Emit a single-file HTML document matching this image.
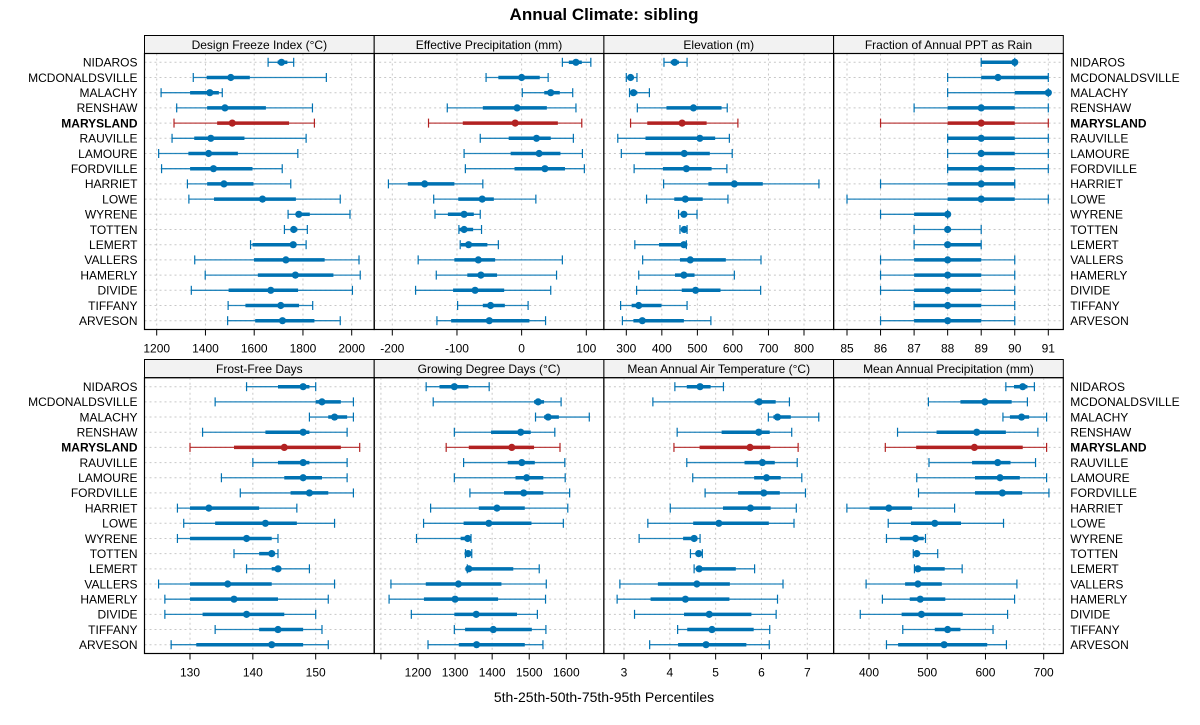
<!DOCTYPE html>
<html><head><meta charset="utf-8"><style>
html,body{margin:0;padding:0;background:#fff;}
svg{display:block;font-family:"Liberation Sans",Arial,sans-serif;}
</style></head><body>
<svg id="chart" width="1200" height="725" viewBox="0 0 1200 725" xmlns="http://www.w3.org/2000/svg">
<text x="604" y="20" text-anchor="middle" font-size="17" font-weight="bold" fill="#000">Annual Climate: sibling</text>
<text x="604" y="702" text-anchor="middle" font-size="14" fill="#000">5th-25th-50th-75th-95th Percentiles</text>
</svg>
<script>
const sites = ["NIDAROS","MCDONALDSVILLE","MALACHY","RENSHAW","MARYSLAND","RAUVILLE","LAMOURE","FORDVILLE","HARRIET","LOWE","WYRENE","TOTTEN","LEMERT","VALLERS","HAMERLY","DIVIDE","TIFFANY","ARVESON"];
const highlight = "MARYSLAND";
const panelTitles = ["Design Freeze Index (°C)","Effective Precipitation (mm)","Elevation (m)","Fraction of Annual PPT as Rain","Frost-Free Days","Growing Degree Days (°C)","Mean Annual Air Temperature (°C)","Mean Annual Precipitation (mm)"];
const freezeIndex = [[1657,1696,1712,1736,1762],[1350,1405,1504,1582,1896],[1218,1337,1418,1455,1469],[1282,1407,1480,1648,1839],[1271,1448,1510,1743,1847],[1263,1354,1422,1560,1813],[1208,1330,1413,1533,1779],[1220,1337,1433,1593,1715],[1326,1407,1476,1597,1750],[1332,1435,1634,1771,1953],[1739,1773,1783,1828,1993],[1724,1749,1762,1777,1818],[1585,1593,1760,1766,1813],[1356,1599,1730,1889,2030],[1399,1615,1769,1925,2035],[1342,1495,1668,1780,2003],[1493,1564,1709,1784,1840],[1491,1604,1716,1847,1953]];
const effPrecip = [[63,73,84,93,107],[-55,-36,0,28,41],[1,35,45,59,79],[-115,-60,-7,39,84],[-144,-91,-10,56,93],[-64,-20,23,45,80],[-89,-17,27,60,94],[-87,-11,36,67,97],[-206,-176,-150,-104,-60],[-136,-98,-61,-43,22],[-134,-114,-89,-74,-64],[-97,-96,-89,-75,-62],[-95,-94,-82,-53,-36],[-160,-104,-67,-41,63],[-132,-84,-63,-38,54],[-164,-106,-72,-27,45],[-99,-60,-48,-26,10],[-131,-109,-50,12,37]];
const elevation = [[406,425,436,448,471],[300,307,312,320,330],[309,312,320,331,365],[331,413,489,568,584],[312,359,457,526,614],[276,354,507,550,590],[286,353,463,535,598],[322,403,469,540,583],[405,531,604,684,842],[357,435,466,515,586],[447,454,462,468,499],[451,455,463,468,471],[324,392,462,467,469],[346,451,480,580,679],[335,437,462,492,604],[329,456,495,565,678],[284,315,335,399,471],[289,320,345,462,538]];
const rainFraction = [[89,89,90,90,90],[88,89,89.5,91,91],[88,90,91,91,91],[87,88,89,90,91],[86,88,89,90,91],[88,88,89,90,91],[88,89,89,90,91],[88,88,89,90,91],[86,88,89,90,90],[85,88,89,90,91],[86,87,88,88,88],[87,88,88,88,89],[87,88,88,89,89],[86,87,88,89,90],[86,87,88,89,90],[86,87,88,89,90],[87,87,88,89,90],[86,87,88,89,90]];
const frostFree = [[139,144,148,149,150],[134,150,151,154,156],[149,152,153,155,156],[132,142,148,149,155],[130,137,145,154,157],[140,144,148,149,155],[135,145,148,151,155],[138,146,149,152,156],[128,130,133,141,147],[129,134,142,147,153],[128,130,139,143,144],[137,141,143,143.5,144],[139,143,144,144,149],[125,130,136,143,153],[126,130,137,144,152],[126,132,139,145,150],[134,141,144,148,151],[127,131,143,148,152]];
const gdd = [[1222,1258,1298,1336,1392],[1241,1513,1524,1540,1586],[1517,1540,1551,1580,1662],[1298,1397,1477,1504,1569],[1276,1337,1453,1513,1583],[1323,1442,1480,1515,1596],[1298,1463,1493,1538,1597],[1340,1432,1485,1538,1609],[1234,1364,1413,1488,1604],[1215,1323,1391,1506,1592],[1196,1315,1334,1340,1343],[1328,1331,1335,1340,1345],[1333,1335,1337,1457,1527],[1127,1221,1309,1425,1546],[1122,1216,1300,1416,1544],[1182,1298,1357,1467,1522],[1298,1327,1403,1507,1545],[1227,1310,1358,1488,1537]];
const maat = [[4.11,4.37,4.66,4.89,5.17],[3.63,5.85,5.95,6.31,6.61],[6.15,6.26,6.35,6.64,7.25],[4.16,5.13,5.94,6.18,6.66],[4.09,4.65,5.75,6.19,6.80],[4.37,5.63,6.02,6.29,6.78],[4.50,5.84,6.11,6.42,6.88],[4.77,5.49,6.05,6.40,6.96],[4.01,5.16,5.76,6.2,6.76],[3.52,4.51,5.07,6.16,6.71],[3.33,4.29,4.53,4.6,4.66],[4.45,4.57,4.63,4.67,4.71],[4.53,4.6,4.64,5.44,5.85],[2.91,3.74,4.59,5.31,6.47],[2.85,3.58,4.34,5.30,6.35],[3.23,4.31,4.86,5.78,6.32],[4.17,4.38,4.92,5.83,6.18],[3.56,4.18,4.79,5.67,6.17]];
const map = [[635,649,664,672,684],[502,557,599,645,672],[630,642,662,675,705],[449,516,585,635,690],[428,481,581,664,705],[503,577,621,643,686],[482,582,625,659,705],[485,582,629,663,709],[362,401,434,474,547],[433,472,513,558,631],[430,453,480,494,497],[476,478,482,486,518],[478,482,484,530,560],[395,462,484,525,654],[423,470,488,531,650],[385,456,490,561,638],[458,513,535,557,613],[430,450,529,603,636]];
const panelData = [freezeIndex,effPrecip,elevation,rainFraction,frostFree,gdd,maat,map];
const ticks1 = [1200,1400,1600,1800,2000];
const ticks2 = [-200,-100,0,100];
const ticks3 = [300,400,500,600,700,800];
const ticks4 = [85,86,87,88,89,90,91];
const ticks5 = [130,140,150];
const ticks6 = [1100,1200,1300,1400,1500,1600];
const ticks7 = [3,4,5,6,7];
const ticks8 = [400,500,600,700];
const panelTicks = [ticks1,ticks2,ticks3,ticks4,ticks5,ticks6,ticks7,ticks8];
const hiddenTickLabels = [[],[],[],[],[],[1100],[],[]];
// axis scale anchors (value pairs mapping to panel-local pixel calibration)
const scaleAnchors = [[1200,2000],[-200,100],[300,800],[85,91],[130,150],[1200,1600],[3,7],[400,700]];
const anchorPx = [[156.7,351.7],[392.3,586.3],[626.3,804],[847,1048.3],[190,315.7],[418,566.3],[624,807.3],[869,1043.7]];

const NS = "http://www.w3.org/2000/svg";
const svg = document.getElementById('chart');
function mk(tag, attrs, parent){ const e=document.createElementNS(NS,tag); for(const k in attrs) e.setAttribute(k,attrs[k]); (parent||svg).appendChild(e); return e; }
const panelLeft = [144.5,374.2,603.9,833.6];
const panelW = 229.7;
const rows = [{strip:35.5,top:53.5,bottom:329.5,first:62.3,last:320.7},{strip:359.5,top:377.7,bottom:653.5,first:386.7,last:644.7}];
const BLUE="#0072B2", RED="#B22222";

for(let p=0;p<8;p++){
  const r = rows[Math.floor(p/4)], col = p%4;
  const x0 = panelLeft[col], x1 = x0+panelW;
  const a = scaleAnchors[p], ap = anchorPx[p];
  const sx = v => ap[0] + (v-a[0])*(ap[1]-ap[0])/(a[1]-a[0]);
  const sy = i => r.first + i*(r.last-r.first)/(sites.length-1);
  const g = mk('g',{});
  
  
  // strip
  const st = mk('rect',{x:x0,y:r.strip,width:panelW,height:r.top-r.strip,fill:'#f2f2f2',stroke:'#000','stroke-width':1},g);
  
  
  const stt = mk('text',{x:x0+panelW/2,y:r.strip+13.5,'text-anchor':'middle','font-size':'12',fill:'#000'},g);
  stt.textContent = panelTitles[p];
  
  
  // grid
  panelTicks[p].forEach(t=>{
    const x=sx(t); if(x<x0||x>x1) return;
    const gl=mk('line',{x1:x,x2:x,y1:r.top,y2:r.bottom,stroke:'#c8c8c8','stroke-dasharray':'2,3','stroke-width':1},g);
    
    
  });
  sites.forEach((s,i)=>{
    const gl=mk('line',{x1:x0,x2:x1,y1:sy(i),y2:sy(i),stroke:'#c8c8c8','stroke-dasharray':'2,3','stroke-width':1},g);
    
    
  });
  // marks
  panelData[p].forEach((d,i)=>{
    const c = sites[i]===highlight?RED:BLUE;
    const y = sy(i);
    const mg = mk('g',{},g);
    
    
    mk('line',{x1:sx(d[0]),x2:sx(d[4]),y1:y,y2:y,stroke:c,'stroke-width':1.3,'stroke-opacity':0.85},mg);
    mk('line',{x1:sx(d[0]),x2:sx(d[0]),y1:y-4.5,y2:y+4.5,stroke:c,'stroke-width':1.2},mg);
    mk('line',{x1:sx(d[4]),x2:sx(d[4]),y1:y-4.5,y2:y+4.5,stroke:c,'stroke-width':1.2},mg);
    mk('line',{x1:sx(d[1]),x2:sx(d[3]),y1:y,y2:y,stroke:c,'stroke-width':3.5},mg);
    mk('circle',{cx:sx(d[2]),cy:y,r:3.6,fill:c},mg);
  });
  // box
  const bx = mk('rect',{x:x0,y:r.top,width:panelW,height:r.bottom-r.top,fill:'none',stroke:'#000','stroke-width':1.2},g);
  
  
  // x ticks
  panelTicks[p].forEach(t=>{
    const x=sx(t);
    const tk=mk('line',{x1:x,x2:x,y1:r.bottom,y2:r.bottom+6,stroke:'#000','stroke-width':1},g);
    
    
    if(hiddenTickLabels[p].indexOf(t)<0){
      const tl=mk('text',{x:x,y:r.bottom+23,'text-anchor':'middle','font-size':'12',fill:'#000'},g);
      tl.textContent=String(t);
      
      
    }
  });
  // y labels
  if(col===0||col===3){
    sites.forEach((s,i)=>{
      const left = col===0;
      const tl=mk('text',{x:left?x0-7:x1+7,y:sy(i)+4.3,'text-anchor':left?'end':'start','font-size':'12',fill:'#000','font-weight':s===highlight?'bold':'normal'},g);
      tl.textContent=s;
      
      
    });
  }
}
</script>
</body></html>
